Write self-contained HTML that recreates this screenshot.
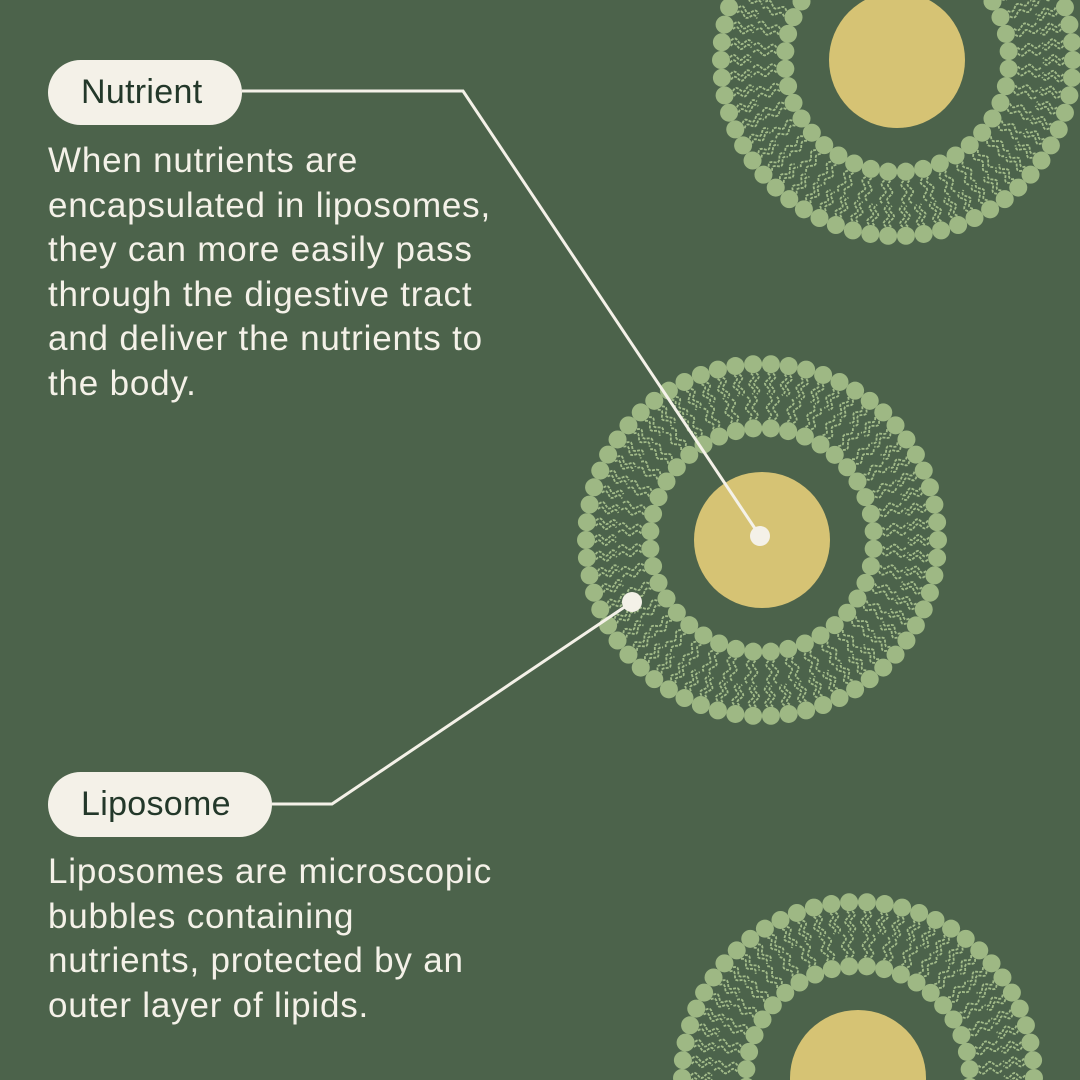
<!DOCTYPE html>
<html><head><style>
html,body{margin:0;width:1080px;height:1080px;overflow:hidden}
body{background:#4c634b;position:relative;font-family:"Liberation Sans",sans-serif}
svg{position:absolute;left:0;top:0}
.pill{position:absolute;background:#f4f1e8;color:#23382a;border-radius:33px;font-size:34px;height:65px;line-height:65px;box-sizing:border-box;padding-left:33px;letter-spacing:0.3px}
.txt{position:absolute;left:48px;color:#f4f1e8;font-size:35px;letter-spacing:0.8px;line-height:44.5px;width:520px;white-space:nowrap}
</style></head><body>
<svg id="s" width="1080" height="1080"></svg>
<div class="pill" style="left:48px;top:60px;width:194px">Nutrient</div>
<div class="txt" style="top:139px">When nutrients are<br>encapsulated in liposomes,<br>they can more easily pass<br>through the digestive tract<br>and deliver the nutrients to<br>the body.</div>
<div class="pill" style="left:48px;top:772px;width:224px">Liposome</div>
<div class="txt" style="top:850px">Liposomes are microscopic<br>bubbles containing<br>nutrients, protected by an<br>outer layer of lipids.</div>
<script>
const s=document.getElementById('s');let h='';
function lip(cx,cy){
 const R1=176,R2=112,n1=62,n2=40,hr=9;
 function tail(a,r0,r1){let d='';const N=16;for(let i=0;i<=N;i++){const t=i/N,r=r0+(r1-r0)*t,w=2.5*Math.sin(t*Math.PI*3);const x=cx+r*Math.cos(a)-w*Math.sin(a),y=cy+r*Math.sin(a)+w*Math.cos(a);d+=(i?'L':'M')+x.toFixed(1)+' '+y.toFixed(1)}return `<path d="${d}" fill="none" stroke="#a3bc8a" stroke-width="1.8" stroke-dasharray="3 1.2"/>`}
 for(let i=0;i<n1;i++){const a=i/n1*2*Math.PI;h+=tail(a-0.016,R1-hr,146)+tail(a+0.016,R1-hr,146);h+=`<circle cx="${cx+R1*Math.cos(a)}" cy="${cy+R1*Math.sin(a)}" r="${hr}" fill="#9eb884"/>`}
 for(let i=0;i<n2;i++){const a=(i+.5)/n2*2*Math.PI;h+=tail(a-0.025,R2+hr,144)+tail(a+0.025,R2+hr,144);h+=`<circle cx="${cx+R2*Math.cos(a)}" cy="${cy+R2*Math.sin(a)}" r="${hr}" fill="#9eb884"/>`}
 h+=`<circle cx="${cx}" cy="${cy}" r="68" fill="#d6c374"/>`;
}
lip(897,60);lip(762,540);lip(858,1078);
h+=`<polyline points="242,91 463,91 760,536" fill="none" stroke="#f4f1e8" stroke-width="3"/><circle cx="760" cy="536" r="10" fill="#f4f1e8"/>`;
h+=`<polyline points="272,804 332,804 632,602" fill="none" stroke="#f4f1e8" stroke-width="3"/><circle cx="632" cy="602" r="10" fill="#f4f1e8"/>`;
s.innerHTML=h;
</script>
</body></html>
